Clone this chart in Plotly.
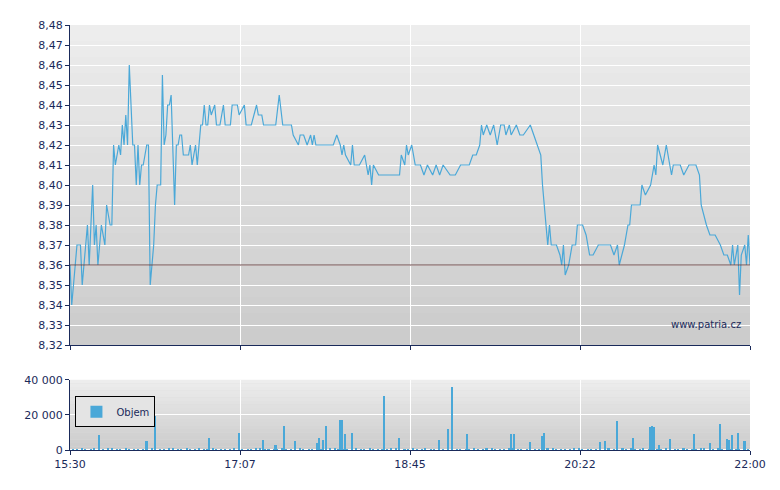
import datetime as dt
import plotly.graph_objects as go
from plotly.subplots import make_subplots

base = dt.datetime(2024, 1, 1, 15, 30)
price_min = [0,1,3,4,6,7,9,10,11,13,14,15,16,17,18,20,21,23,24,25,26,28,29,30,31,32,33,34,36,37,38,39,40,41,42,44,45,46,47,48,49,50,52,53,54,55,56,57,58,60,61,62,63,64,65,68,69,70,71,72,73,75,76,77,78,79,80,81,83,84,86,88,89,92,93,96,97,100,101,103,104,107,108,110,111,115,118,120,122,124,125,127,128,131,132,134,136,138,139,140,141,151,153,155,156,157,158,161,162,163,166,169,170,171,172,173,174,177,189,190,192,193,194,196,198,201,203,205,208,210,212,214,218,221,224,227,229,231,233,235,236,237,239,241,243,245,247,249,250,252,253,256,258,260,264,266,268,270,271,273,274,275,276,279,281,282,283,284,286,288,290,291,294,296,298,300,303,310,312,314,315,318,320,321,322,327,328,330,333,335,336,337,340,341,342,344,345,346,350,352,355,359,361,362,365,367,370,373,375,377,379,380,381,383,384,385,387,388,389,390]
price = [8.36,8.34,8.36,8.37,8.37,8.35,8.37,8.38,8.36,8.40,8.37,8.38,8.36,8.37,8.38,8.37,8.39,8.38,8.38,8.42,8.41,8.42,8.415,8.43,8.42,8.435,8.42,8.46,8.42,8.42,8.40,8.42,8.40,8.41,8.41,8.42,8.42,8.35,8.36,8.37,8.39,8.40,8.40,8.455,8.42,8.425,8.44,8.44,8.445,8.39,8.42,8.42,8.425,8.425,8.415,8.415,8.42,8.41,8.415,8.42,8.41,8.43,8.43,8.44,8.43,8.43,8.44,8.435,8.44,8.43,8.43,8.44,8.43,8.43,8.44,8.44,8.435,8.44,8.43,8.43,8.43,8.44,8.435,8.435,8.43,8.43,8.43,8.445,8.43,8.43,8.43,8.43,8.425,8.42,8.425,8.425,8.42,8.425,8.42,8.425,8.42,8.42,8.425,8.42,8.415,8.42,8.415,8.41,8.42,8.41,8.41,8.415,8.41,8.405,8.41,8.40,8.41,8.405,8.405,8.415,8.41,8.42,8.415,8.42,8.41,8.41,8.405,8.41,8.405,8.41,8.405,8.41,8.405,8.405,8.41,8.41,8.41,8.415,8.415,8.42,8.43,8.425,8.43,8.425,8.43,8.42,8.43,8.43,8.425,8.43,8.425,8.43,8.425,8.425,8.43,8.425,8.42,8.415,8.40,8.38,8.37,8.38,8.37,8.37,8.365,8.36,8.37,8.355,8.36,8.37,8.37,8.38,8.38,8.375,8.365,8.365,8.37,8.37,8.365,8.37,8.36,8.37,8.38,8.38,8.39,8.39,8.40,8.395,8.40,8.41,8.405,8.42,8.41,8.415,8.42,8.41,8.405,8.41,8.41,8.405,8.41,8.41,8.405,8.39,8.38,8.375,8.375,8.37,8.365,8.365,8.36,8.37,8.36,8.37,8.345,8.365,8.37,8.36,8.375,8.36]

spike_min = [17,44,49,80,97,111,118,123,129,142,143,145,147,155,156,158,162,180,189,212,217,219,228,253,255,264,271,272,304,307,314,323,333,334,335,338,344,358,367,373,377,378,380,383,387]
spike_vol = [8000,4000,18500,7000,8800,6000,3000,14000,4000,3000,7000,6000,13000,17000,17000,9000,9000,31000,6500,5000,11000,35000,9000,9000,9000,3500,8000,9000,4000,4000,16000,7000,13000,13000,13000,3000,5000,9000,3000,15000,6000,6000,8800,10000,4000]
base_vol = [600,1200,500,900,1500,700,1100,400,800,1300,600,1000,500,1400,900,700,1200,500,800,1000,600,1500,900,400,1100,700,1300,600,900,500,1200,800,1000,700,1400,600,900,1100,500,1300,800,700,1000,1200,600,900,1500,500,1100,800,1300,700,900,600,1000,1200,500,800,1400,900,700,1100,600,1000,1300,500,900,800,1200,700,1000,600,1100,900,1300,500,800,1000]
base_min = list(range(2, 390, 5))
base_vol2 = [800,500,1000,700,1200,600,900,400,1100,700,500,1300,800,600,1000,900,500,700,1200,600,800,1000,400,900,700,1100,600,800,500,1000,900,700,1200,600,800,500,1100,700,900,600,1000,800,500,1200,700,900,600,1000,800,400,1100,700,900,600,1300,500,800,1000,700,600,900,1100,500,800,700,1000,600,900,1200,500,800,700,1000,600,900,500,800,700]
base_min2 = list(range(4, 390, 5))

t = lambda m: base + dt.timedelta(minutes=m)
vx = [t(m) for m in base_min] + [t(m) for m in base_min2] + [t(m) for m in spike_min]
vy = base_vol + base_vol2 + spike_vol

fig = make_subplots(rows=2, cols=1, row_heights=[0.79, 0.21], vertical_spacing=0.0)
fig.add_trace(go.Scatter(x=[t(m) for m in price_min], y=price, mode="lines",
                         line=dict(color="#4aa8d8", width=1.2), showlegend=False), row=1, col=1)
fig.add_trace(go.Bar(x=vx, y=vy, name="Objem", marker=dict(color="#4aa8d8", line=dict(width=0)),
                     width=55000), row=2, col=1)

font = dict(family="DejaVu Sans", size=11, color="#1a2a5a")
tickvals = [base + dt.timedelta(minutes=97.5 * i) for i in range(5)]
ticktext = ["15:30", "17:07", "18:45", "20:22", "22:00"]
xcommon = dict(range=[base, t(390)], tickvals=tickvals, showgrid=True, gridcolor="white", gridwidth=1,
               showline=True, linecolor="#1a2a5a", ticks="outside", ticklen=4, tickcolor="#1a2a5a", zeroline=False)
fig.update_xaxes(**xcommon, showticklabels=False, row=1, col=1)
fig.update_xaxes(**xcommon, ticktext=ticktext, row=2, col=1)
fig.update_yaxes(range=[8.32, 8.48], dtick=0.01, tickformat=".2f", showgrid=True, gridcolor="white",
                 showline=True, linecolor="#1a2a5a", ticks="outside", ticklen=4, tickcolor="#1a2a5a", row=1, col=1)
fig.update_yaxes(range=[0, 40000], tickvals=[0, 20000, 40000], tickformat=",d", showgrid=True, gridcolor="white",
                 showline=True, linecolor="#1a2a5a", ticks="outside", ticklen=4, tickcolor="#1a2a5a", row=2, col=1)

n = 20
for ax in ["y", "y2"]:
    top, bot = 0.93, 0.80
    for i in range(n):
        f = i / (n - 1)
        v = int(255 * (top + (bot - top) * f))
        fig.add_shape(type="rect", xref="x domain" if ax == "y" else "x2 domain", yref=ax + " domain",
                      x0=0, x1=1, y0=1 - (i + 1) / n, y1=1 - i / n, fillcolor=f"rgb({v},{v},{v})",
                      line_width=0, layer="below")
fig.add_hline(y=8.36, line=dict(color="#6a4848", width=1), row=1, col=1)
fig.add_annotation(text="www.patria.cz", xref="x domain", yref="y domain", x=0.99, y=0.04,
                   xanchor="right", yanchor="bottom", showarrow=False,
                   font=dict(family="DejaVu Sans", size=10, color="#1a2a5a"))

fig.update_layout(width=780, height=490, margin=dict(l=62, r=38, t=17, b=48),
                  paper_bgcolor="white", plot_bgcolor="#dddddd", font=font, separators=", ",
                  bargap=0, showlegend=True,
                  legend=dict(x=0.008, y=0.09, xanchor="left", yanchor="middle", bgcolor="#e4e4e4",
                              bordercolor="black", borderwidth=1, font=dict(size=10), itemwidth=30))
fig.update_layout(yaxis=dict(domain=[0.247, 1]), yaxis2=dict(domain=[0, 0.165]))
fig.write_html("out.html")
